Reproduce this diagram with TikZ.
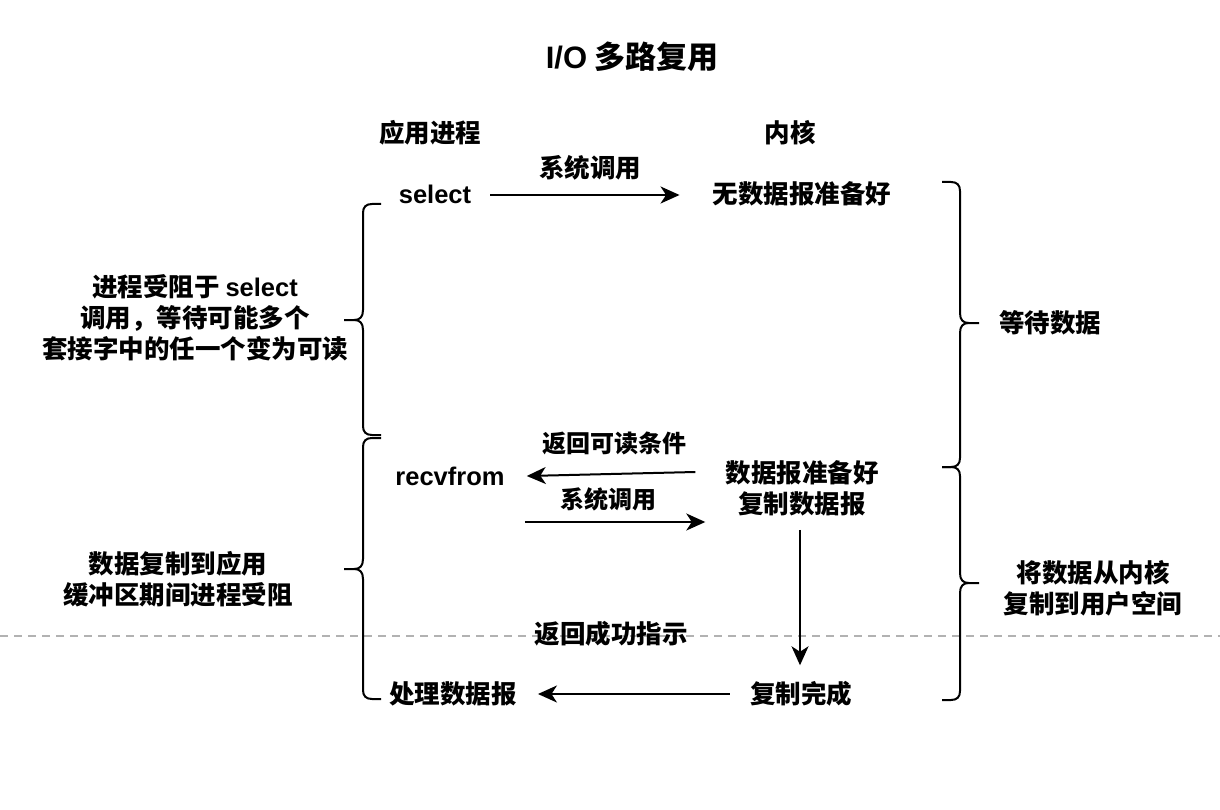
\documentclass[tikz,border=0pt]{standalone}
\usepackage{fontspec}
\setmainfont{Liberation Sans}
\newfontfamily\cjk{Noto Sans CJK SC}
\newfontfamily\latinbold{Liberation Sans Bold}
\usetikzlibrary{arrows.meta}
\newcommand\latin[1]{{\latinbold #1}}
\tikzset{
  lbl/.style={font=\cjk\bfseries\fontsize{25.5}{31}\selectfont, align=center, inner sep=2pt},
  sml/.style={font=\cjk\bfseries\fontsize{24}{29}\selectfont, align=center, inner sep=2pt},
  ttl/.style={font=\cjk\bfseries\fontsize{31}{37}\selectfont, inner sep=2pt},
  arr/.style={line width=2pt, -{Stealth[length=19pt,width=17pt,inset=5.5pt]}},
  brc/.style={line width=2pt, line join=round, line cap=butt},
  sepline/.style={draw=black!30, line width=1.5pt, dash pattern=on 8pt off 6pt},
}
% left curly bracket: #1 x of vertical, #2 top y, #3 tip y, #4 bottom y
\newcommand\drawBraceLeft[4]{%
  \draw[brc] (#1+18,#2) -- (#1+9,#2) .. controls (#1+3,#2) and (#1,#2+3) .. (#1,#2+9)
    -- (#1,#3-10) .. controls (#1,#3-3) and (#1-3,#3) .. (#1-9,#3) -- (#1-19,#3)
    (#1-9,#3) .. controls (#1-3,#3) and (#1,#3+3) .. (#1,#3+10)
    -- (#1,#4-9) .. controls (#1,#4-3) and (#1+3,#4) .. (#1+9,#4) -- (#1+18,#4);}
\newcommand\drawBraceRight[4]{%
  \draw[brc] (#1-18,#2) -- (#1-9,#2) .. controls (#1-3,#2) and (#1,#2+3) .. (#1,#2+9)
    -- (#1,#3-10) .. controls (#1,#3-3) and (#1+3,#3) .. (#1+9,#3) -- (#1+19,#3)
    (#1+9,#3) .. controls (#1+3,#3) and (#1,#3+3) .. (#1,#3+10)
    -- (#1,#4-9) .. controls (#1,#4-3) and (#1-3,#4) .. (#1-9,#4) -- (#1-18,#4);}
\begin{document}
\begin{tikzpicture}[x=1pt,y=-1pt]
\useasboundingbox[fill=white] (0,0) rectangle (1220,810);

% title and headers
\node[ttl] (title) at (632,57) {\latin{I/O} 多路复用};
\node[lbl] (app) at (430,133) {应用进程};
\node[lbl] (kern) at (790,133) {内核};

% separator
\draw[sepline] (0,636) -- (1220,636);

% nodes
\node[lbl] (select) at (435,194) {\latin{select}};
\node[lbl] (nodata) at (802,194) {无数据报准备好};
\node[lbl] (sys1) at (590,168) {系统调用};

\node[lbl] (block) at (195,318) {进程受阻于 \latin{select}\\调用，等待可能多个\\套接字中的任一个变为可读};
\node[lbl] (wait) at (1050,323) {等待数据};

\node[sml] (retread) at (614,443) {返回可读条件};
\node[lbl] (recv) at (450,476) {\latin{recvfrom}};
\node[lbl] (ready) at (802,488) {数据报准备好\\复制数据报};
\node[sml] (sys2) at (608,499) {系统调用};

\node[lbl] (copyblock) at (178,579) {数据复制到应用\\缓冲区期间进程受阻};
\node[lbl] (copyk) at (1093,588) {将数据从内核\\复制到用户空间};

\node[lbl] (success) at (611,634) {返回成功指示};
\node[lbl] (handle) at (453,694) {处理数据报};
\node[lbl] (done) at (801,694) {复制完成};

% connectors
\draw[arr] ([xshift=17pt,yshift=-1pt]select.east) -- ([xshift=-31pt,yshift=-1pt]nodata.west);
\draw[arr] ([xshift=-28pt,yshift=16pt]ready.west) -- ([xshift=20pt]recv.east);
\draw[arr] ([xshift=18pt,yshift=-46pt]recv.east) -- ([xshift=-18pt,yshift=-34pt]ready.west);
\draw[arr] ([xshift=-2pt,yshift=-12pt]ready.south) -- ([xshift=-1pt,yshift=14pt]done.north);
\draw[arr] ([xshift=-18pt]done.west) -- ([xshift=19pt]handle.east);

% braces
\drawBraceLeft{363}{204}{320}{435}
\drawBraceLeft{363}{438}{569}{699}
\drawBraceRight{960}{182}{323}{467}
\drawBraceRight{960}{467}{583}{700}
\end{tikzpicture}
\end{document}
